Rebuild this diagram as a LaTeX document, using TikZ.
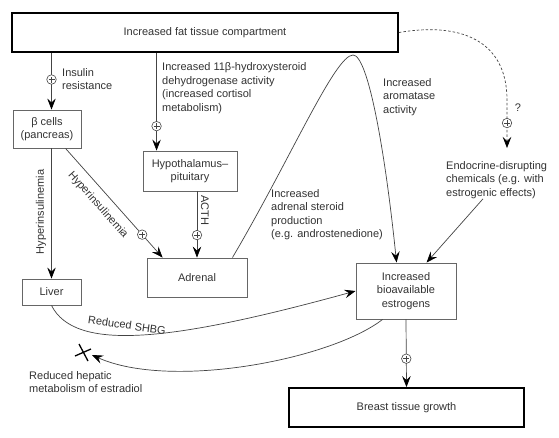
\documentclass[tikz,border=0pt]{standalone}
\usepackage{fontspec}
\setmainfont{Liberation Sans}
\usetikzlibrary{arrows.meta,calc}
\definecolor{txt}{HTML}{333333}
\definecolor{ln}{HTML}{444444}
\definecolor{bx}{HTML}{666666}
\begin{document}
\begin{tikzpicture}[x=1pt,y=-1pt,
  every node/.style={font=\fontsize{11}{13.5}\selectfont, text=txt},
  box/.style={draw=bx, line width=0.9pt, align=center, inner sep=0pt},
  bigbox/.style={draw=black, line width=1.8pt, align=center, inner sep=0pt},
  conn/.style={draw=ln, line width=0.7pt, -{Stealth[length=11pt,width=8.5pt,inset=4pt,color=black]}},
  lbl/.style={align=left, inner sep=0pt},
  pluss/.style={circle, draw=ln, fill=white, solid, line width=0.6pt, minimum size=9.5pt, inner sep=0pt,
     path picture={\draw[ln, line width=0.6pt, solid, -]
       ([xshift=-3pt]path picture bounding box.center) -- ([xshift=3pt]path picture bounding box.center)
       ([yshift=-3pt]path picture bounding box.center) -- ([yshift=3pt]path picture bounding box.center);}},
]
\fill[white] (0,0) rectangle (559,437);
\useasboundingbox (0,0) rectangle (559,437);

% boxes
\node[bigbox, minimum width=386pt, minimum height=39pt] (top) at (205,32.5) {Increased fat tissue compartment};
\node[box, minimum width=68pt, minimum height=38pt] (beta) at (47,129) {β cells\\(pancreas)};
\node[box, minimum width=94pt, minimum height=40pt] (hypo) at (190,171) {Hypothalamus–\\pituitary};
\node[box, minimum width=100pt, minimum height=39pt] (adrenal) at (197,277.5) {Adrenal};
\node[box, minimum width=59pt, minimum height=26pt] (liver) at (51.5,292) {Liver};
\node[box, minimum width=100pt, minimum height=56pt] (estro) at (406,291) {Increased\\bioavailable\\estrogens};
\node[bigbox, minimum width=235pt, minimum height=39pt] (breast) at (406.5,407.5) {Breast tissue growth};

% labels
\node[lbl, anchor=west] (lins) at (62,79) {Insulin\\resistance};
\node[lbl, anchor=west] (l11) at (162,88) {Increased 11β-hydroxysteroid\\dehydrogenase activity\\(increased cortisol\\metabolism)};
\node[lbl, anchor=west] (larom) at (383,97) {Increased\\aromatase\\activity};
\node[lbl, anchor=west] (ladr) at (271,214.5) {Increased\\adrenal steroid\\production\\(e.g. androstenedione)};
\node[lbl, anchor=west] (endo) at (446,180) {Endocrine-disrupting\\chemicals (e.g. with\\estrogenic effects)};
\node[lbl, anchor=west] (lhep) at (29,382) {Reduced hepatic\\metabolism of estradiol};
\node[lbl] (lq) at (518,108) {?};
\node[lbl, rotate=90] (lhyp1) at (41,212) {Hyperinsulinemia};
\node[lbl, rotate=-48.6] (lhyp2) at (98,205) {Hyperinsulinemia};
\node[lbl, rotate=-90] (lacth) at (205,210) {ACTH};
\node[lbl, rotate=-8] (lshbg) at (127,325) {Reduced SHBG};

% helper coordinates
\path ($(hypo.north west)+(14,0)$) coordinate (h1);
\coordinate (peak) at (353,55);
\coordinate (qend) at (507,148);
\coordinate (xend) at (92,355);
\coordinate (xm) at (83,352);

% connectors
\draw[conn] (top.south -| liver.north) -- node[pluss, pos=0.47] (p1) {} (beta.north -| liver.north);
\draw[conn] (beta.south -| liver.north) -- (liver.north);
\draw[conn] (top.south -| h1) -- node[pluss, pos=0.75] (p2) {} (h1);
\draw[conn] ($(beta.south west)+(53,0)$) -- node[pluss, pos=0.79] (p3) {} ($(adrenal.north west)+(16,0)$);
\draw[conn] (hypo.south -| adrenal.north) -- node[pluss, pos=0.66] (p4) {} (adrenal.north);
\draw[conn] ($(adrenal.north east)+(-15,0)$) .. controls (290,160) and (335,55) .. (peak)
   .. controls (368,55) and (385,150) .. ($(estro.north west)+(41,0)$);
\draw[conn, dash pattern=on 2.5pt off 2pt] (top.east) .. controls (460,22) and (507,40) .. (507,100)
   -- node[pluss, pos=0.48] (p5) {} (qend);
\draw[conn] ($(endo.south west)+(37,0)$) -- ($(estro.north west)+(71,0)$);
\draw[conn] (liver.south) .. controls (75,352) and (170,342) .. (estro.west);
\draw[conn] ($(estro.south west)+(27,0)$) .. controls (330,360) and (170,390) .. (xend);
\draw[conn] (estro.south) -- node[pluss, pos=0.58] (p6) {} (breast.north);

% cross mark
\draw[black, line width=1.3pt] ($(xm)+(-4,-8)$) -- ($(xm)+(5,9)$) ($(xm)+(-8,4)$) -- ($(xm)+(8,-3)$);
\end{tikzpicture}
\end{document}
